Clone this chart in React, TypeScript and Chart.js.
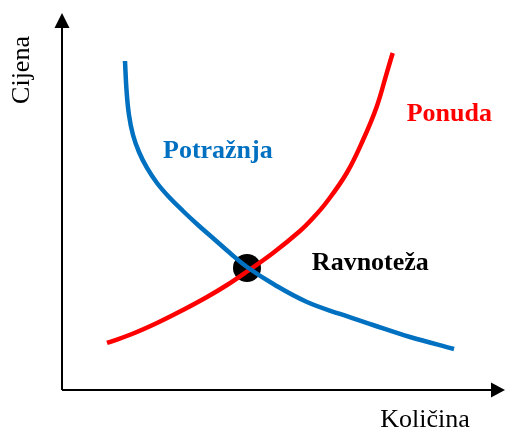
import React, { useEffect, useRef } from "react";
import { Chart, registerables } from "chart.js";

Chart.register(...registerables);

// Demand curve (Potražnja): quantity, price
const demandQ = [14.22, 14.56, 15.12, 16.03, 17.38, 19.19, 21.44, 24.15, 27.31, 30.7, 34.31, 37.92, 41.76, 48.08, 55.3, 62.75, 70.2, 78.56, 88.49];
const demandP = [87.27, 79.58, 72.94, 67.64, 63.13, 58.89, 54.91, 51.19, 47.48, 43.77, 40.05, 36.34, 32.63, 27.85, 23.34, 20.16, 17.24, 14.06, 10.88];
// Supply curve (Ponuda)
const supplyQ = [10.16, 15.8, 21.44, 27.09, 32.73, 37.25, 41.76, 47.63, 53.72, 56.66, 59.75, 64.27, 67.95, 71.04, 73.3, 74.65];
const supplyP = [12.47, 14.85, 17.77, 21.09, 24.67, 27.85, 31.43, 36.34, 42.18, 45.62, 49.87, 57.56, 66.31, 75.15, 84.08, 89.39];
// Equilibrium (Ravnoteža)
const eqQ = [41.76];
const eqP = [32.36];

const labels = {
  demand: "Potražnja",
  supply: "Ponuda",
  eq: "Ravnoteža",
  xTitle: "Količina",
  yTitle: "Cijena",
};

const BLUE = "#0070C0";
const RED = "#FF0000";

const toPts = (xs: number[], ys: number[]) => xs.map((x, i) => ({ x, y: ys[i] }));

const decorPlugin = {
  id: "decor",
  afterDraw(chart: any) {
    const ctx = chart.ctx;
    const xs = chart.scales.x;
    const ys = chart.scales.y;
    const ox = xs.getPixelForValue(0);
    const oy = ys.getPixelForValue(0);
    const top = ys.getPixelForValue(100);
    const right = xs.getPixelForValue(100);
    ctx.save();
    ctx.strokeStyle = "#000";
    ctx.fillStyle = "#000";
    ctx.lineWidth = 2;
    ctx.beginPath();
    ctx.moveTo(ox, oy);
    ctx.lineTo(ox, top + 10);
    ctx.moveTo(ox, oy);
    ctx.lineTo(right - 10, oy);
    ctx.stroke();
    // arrows
    ctx.beginPath();
    ctx.moveTo(ox, top);
    ctx.lineTo(ox - 7.5, top + 15);
    ctx.lineTo(ox + 7.5, top + 15);
    ctx.closePath();
    ctx.fill();
    ctx.beginPath();
    ctx.moveTo(right, oy);
    ctx.lineTo(right - 14, oy - 7.5);
    ctx.lineTo(right - 14, oy + 7.5);
    ctx.closePath();
    ctx.fill();

    // axis titles
    ctx.font = "26px 'Liberation Serif', 'Times New Roman', serif";
    ctx.textAlign = "center";
    ctx.textBaseline = "alphabetic";
    ctx.fillText(labels.xTitle, 425, oy + 37);
    ctx.save();
    ctx.translate(ox - 33, 70);
    ctx.rotate(-Math.PI / 2);
    ctx.fillText(labels.yTitle, 0, 0);
    ctx.restore();

    // curve labels
    ctx.font = "bold 26px 'Liberation Serif', 'Times New Roman', serif";
    ctx.textAlign = "left";
    ctx.fillStyle = BLUE;
    ctx.fillText(labels.demand, xs.getPixelForValue(22.8), ys.getPixelForValue(61.5));
    ctx.fillStyle = RED;
    ctx.fillText(labels.supply, xs.getPixelForValue(77.8), ys.getPixelForValue(71.4));
    ctx.fillStyle = "#000";
    ctx.fillText(labels.eq, xs.getPixelForValue(56.4), ys.getPixelForValue(31.8));
    ctx.restore();
  },
};

export default function App() {
  const ref = useRef<HTMLCanvasElement | null>(null);
  useEffect(() => {
    if (!ref.current) return;
    const chart = new Chart(ref.current, {
      type: "scatter",
      data: {
        datasets: [
          {
            label: labels.demand,
            data: toPts(demandQ, demandP),
            showLine: true,
            borderColor: BLUE,
            borderWidth: 4.5,
            pointRadius: 0,
            tension: 0.4,
            borderCapStyle: "butt",
          } as any,
          {
            label: labels.supply,
            data: toPts(supplyQ, supplyP),
            showLine: true,
            borderColor: RED,
            borderWidth: 4.5,
            pointRadius: 0,
            tension: 0.4,
            borderCapStyle: "butt",
          } as any,
          {
            label: labels.eq,
            data: toPts(eqQ, eqP),
            showLine: false,
            pointRadius: 14,
            pointBackgroundColor: "#000",
            pointBorderWidth: 0,
            borderColor: "#000",
          } as any,
        ],
      },
      options: {
        responsive: false,
        animation: false,
        devicePixelRatio: 1,
        layout: { autoPadding: false, padding: { left: 62, right: 0, top: 13, bottom: 40 } },
        plugins: {
          legend: { display: false },
          tooltip: { enabled: false },
        },
        scales: {
          x: { type: "linear", min: 0, max: 100, display: false },
          y: { type: "linear", min: 0, max: 100, display: false },
        },
      },
      plugins: [decorPlugin],
    });
    return () => chart.destroy();
  }, []);
  return (
    <div style={{ position: "absolute", left: 0, top: 0, width: 505, height: 430, background: "#fff" }}>
      <canvas ref={ref} width={505} height={430} />
    </div>
  );
}
